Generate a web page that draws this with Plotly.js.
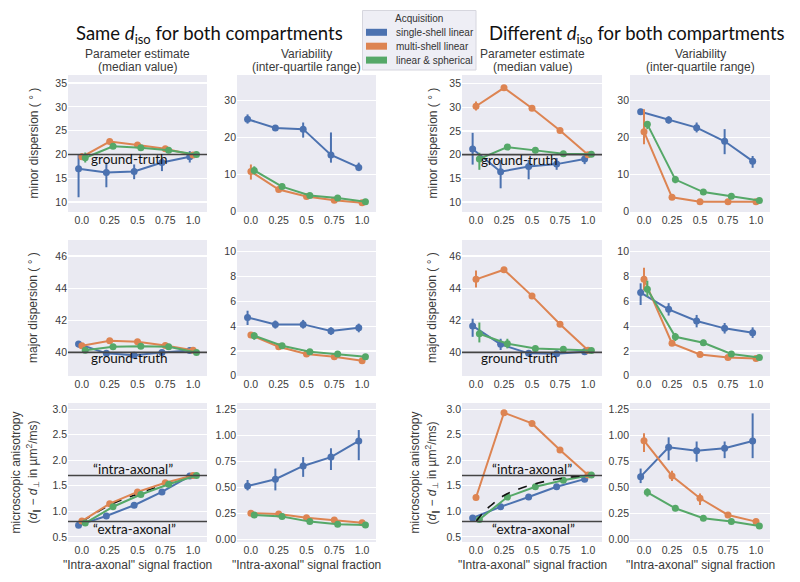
<!DOCTYPE html>
<html>
<head>
<meta charset="utf-8">
<script src="https://cdn.plot.ly/plotly-3.0.1.min.js"></script>
<style>
  html, body { margin: 0; padding: 0; background: #fff; }
  #chart { width: 800px; height: 582px; }
</style>
</head>
<body>
<div id="chart"></div>
<script>
// x categories (intra-axonal signal fraction)
const fractions = ["0.0", "0.25", "0.5", "0.75", "1.0"];
const acquisitions = ["single-shell linear", "multi-shell linear", "linear & spherical"];

// reference values
const gtMinor = 20;
const gtMajor = 40;
const intraAniso = 1.7;
const extraAniso = 0.8;

// --- minor dispersion, same d_iso: median ---
const sameMinorMedSingle = [17.0, 16.2, 16.4, 18.3, 19.5];
const sameMinorMedSingleCI = [[11.0, 20.0], [13.1, 18.3], [14.8, 17.9], [16.5, 19.0], [18.3, 20.7]];
const sameMinorMedMulti = [19.5, 22.7, 22.0, 21.2, 19.9];
const sameMinorMedMultiCI = [[18.9, 20.2], [22.3, 23.1], [21.7, 22.3], [20.9, 21.5], [19.6, 20.2]];
const sameMinorMedSphere = [19.3, 21.7, 21.4, 20.9, 20.0];
const sameMinorMedSphereCI = [[18.3, 20.4], [21.3, 22.1], [21.1, 21.7], [20.6, 21.2], [19.7, 20.3]];

// --- minor dispersion, same d_iso: IQR ---
const sameMinorIqrSingle = [25.0, 22.6, 22.3, 15.3, 11.9];
const sameMinorIqrSingleCI = [[23.8, 26.3], [21.8, 23.4], [20.0, 24.1], [13.2, 21.4], [10.9, 13.2]];
const sameMinorIqrMulti = [10.8, 5.9, 4.0, 3.0, 2.3];
const sameMinorIqrMultiCI = [[8.6, 12.7], [5.4, 6.4], [3.6, 4.4], [2.6, 3.4], [2.0, 2.6]];
const sameMinorIqrSphere = [11.1, 6.7, 4.3, 3.6, 2.6];
const sameMinorIqrSphereCI = [[10.0, 12.2], [6.2, 7.2], [3.9, 4.7], [3.2, 4.0], [2.3, 2.9]];

// --- minor dispersion, different d_iso: median ---
const diffMinorMedSingle = [21.2, 16.4, 17.5, 18.0, 19.1];
const diffMinorMedSingleCI = [[17.9, 24.6], [12.9, 18.9], [14.8, 18.9], [16.8, 19.3], [18.0, 19.8]];
const diffMinorMedMulti = [30.2, 34.1, 29.8, 25.1, 20.0];
const diffMinorMedMultiCI = [[29.3, 31.2], [33.8, 34.4], [29.5, 30.1], [24.8, 25.4], [19.7, 20.3]];
const diffMinorMedSphere = [19.1, 21.6, 20.9, 20.2, 20.1];
const diffMinorMedSphereCI = [[16.8, 20.4], [21.2, 22.0], [20.6, 21.2], [19.9, 20.5], [19.8, 20.4]];

// --- minor dispersion, different d_iso: IQR ---
const diffMinorIqrSingle = [27.0, 24.8, 22.7, 19.0, 13.6];
const diffMinorIqrSingleCI = [[26.2, 27.8], [23.8, 25.8], [21.4, 24.1], [15.5, 22.3], [11.8, 15.0]];
const diffMinorIqrMulti = [21.6, 3.8, 2.6, 2.6, 2.6];
const diffMinorIqrMultiCI = [[18.2, 27.7], [3.4, 4.2], [2.3, 2.9], [2.3, 2.9], [2.3, 2.9]];
const diffMinorIqrSphere = [23.6, 8.6, 5.2, 4.1, 2.9];
const diffMinorIqrSphereCI = [[22.3, 24.5], [7.6, 9.6], [4.7, 5.7], [3.7, 4.5], [2.6, 3.2]];

// --- major dispersion, same d_iso: median ---
const sameMajorMedSingle = [40.52, 39.94, 39.83, 40.0, 40.12];
const sameMajorMedSingleCI = [[40.3, 40.7], [39.8, 40.1], [39.7, 40.0], [39.85, 40.15], [39.95, 40.3]];
const sameMajorMedMulti = [40.41, 40.72, 40.66, 40.43, 40.14];
const sameMajorMedMultiCI = [[40.3, 40.5], [40.6, 40.8], [40.55, 40.75], [40.35, 40.5], [40.05, 40.2]];
const sameMajorMedSphere = [40.14, 40.35, 40.38, 40.35, 40.0];
const sameMajorMedSphereCI = [[40.0, 40.25], [40.25, 40.45], [40.3, 40.45], [40.25, 40.45], [39.9, 40.1]];

// --- major dispersion, same d_iso: IQR ---
const sameMajorIqrSingle = [4.7, 4.14, 4.14, 3.6, 3.87];
const sameMajorIqrSingleCI = [[4.09, 5.24], [3.8, 4.45], [3.8, 4.5], [3.3, 3.9], [3.5, 4.2]];
const sameMajorIqrMulti = [3.28, 2.34, 1.75, 1.53, 1.21];
const sameMajorIqrMultiCI = [[3.05, 3.5], [2.2, 2.5], [1.6, 1.9], [1.4, 1.65], [1.1, 1.3]];
const sameMajorIqrSphere = [3.22, 2.42, 1.94, 1.75, 1.53];
const sameMajorIqrSphereCI = [[2.9, 3.5], [2.25, 2.6], [1.8, 2.1], [1.6, 1.9], [1.4, 1.65]];

// --- major dispersion, different d_iso: median ---
const diffMajorMedSingle = [41.65, 40.5, 39.94, 39.92, 40.04];
const diffMajorMedSingleCI = [[40.97, 42.1], [40.15, 40.85], [39.8, 40.1], [39.75, 40.1], [39.85, 40.25]];
const diffMajorMedMulti = [44.55, 45.15, 43.52, 41.75, 40.14];
const diffMajorMedMultiCI = [[44.04, 45.1], [45.0, 45.3], [43.4, 43.65], [41.65, 41.85], [40.05, 40.25]];
const diffMajorMedSphere = [41.16, 40.54, 40.25, 40.2, 40.12];
const diffMajorMedSphereCI = [[40.62, 41.86], [40.25, 40.85], [40.1, 40.4], [40.05, 40.35], [40.0, 40.25]];

// --- major dispersion, different d_iso: IQR ---
const diffMajorIqrSingle = [6.7, 5.35, 4.41, 3.82, 3.47];
const diffMajorIqrSingleCI = [[5.7, 7.45], [4.85, 5.85], [3.9, 4.9], [3.4, 4.25], [3.05, 3.9]];
const diffMajorIqrMulti = [7.77, 2.61, 1.72, 1.48, 1.40];
const diffMajorIqrMultiCI = [[6.9, 8.7], [2.4, 2.8], [1.6, 1.85], [1.35, 1.6], [1.3, 1.5]];
const diffMajorIqrSphere = [6.97, 3.14, 2.66, 1.75, 1.48];
const diffMajorIqrSphereCI = [[6.37, 7.66], [2.8, 3.45], [2.45, 2.9], [1.6, 1.9], [1.35, 1.6]];

// --- microscopic anisotropy, same d_iso: median ---
const sameAnisoMedSingle = [0.73, 0.91, 1.12, 1.38, 1.69];
const sameAnisoMedSingleCI = [[0.69, 0.77], [0.87, 0.95], [1.08, 1.16], [1.33, 1.43], [1.64, 1.74]];
const sameAnisoMedMulti = [0.81, 1.15, 1.38, 1.56, 1.70];
const sameAnisoMedMultiCI = [[0.79, 0.83], [1.13, 1.17], [1.36, 1.40], [1.54, 1.58], [1.68, 1.72]];
const sameAnisoMedSphere = [0.77, 1.09, 1.33, 1.53, 1.70];
const sameAnisoMedSphereCI = [[0.75, 0.79], [1.07, 1.11], [1.31, 1.35], [1.51, 1.55], [1.68, 1.72]];
const sameAnisoTheory = [0.80, 1.12, 1.34, 1.53, 1.70];

// --- microscopic anisotropy, same d_iso: IQR ---
const sameAnisoIqrSingle = [0.512, 0.577, 0.705, 0.79, 0.945];
const sameAnisoIqrSingleCI = [[0.47, 0.57], [0.47, 0.68], [0.60, 0.79], [0.666, 0.875], [0.76, 1.05]];
const sameAnisoIqrMulti = [0.25, 0.243, 0.208, 0.186, 0.16];
const sameAnisoIqrMultiCI = [[0.24, 0.26], [0.23, 0.255], [0.195, 0.22], [0.175, 0.2], [0.15, 0.17]];
const sameAnisoIqrSphere = [0.234, 0.218, 0.17, 0.144, 0.137];
const sameAnisoIqrSphereCI = [[0.22, 0.25], [0.205, 0.23], [0.16, 0.18], [0.135, 0.155], [0.13, 0.145]];

// --- microscopic anisotropy, different d_iso: median ---
const diffAnisoMedSingle = [0.87, 1.09, 1.28, 1.48, 1.63];
const diffAnisoMedSingleCI = [[0.82, 0.92], [1.04, 1.14], [1.24, 1.32], [1.44, 1.53], [1.59, 1.68]];
const diffAnisoMedMulti = [1.27, 2.93, 2.72, 2.2, 1.71];
const diffAnisoMedMultiCI = [[1.24, 1.30], [2.91, 2.95], [2.70, 2.74], [2.18, 2.22], [1.69, 1.73]];
const diffAnisoMedSphere = [0.84, 1.28, 1.48, 1.61, 1.71];
const diffAnisoMedSphereCI = [[0.82, 0.86], [1.26, 1.30], [1.46, 1.50], [1.59, 1.63], [1.69, 1.73]];
const diffTheoryFrac = [0, 0.0625, 0.125, 0.25, 0.375, 0.5, 0.625, 0.75, 0.875, 1.0];
const diffAnisoTheory = [0.80, 0.97, 1.10, 1.31, 1.43, 1.52, 1.59, 1.64, 1.68, 1.70];

// --- microscopic anisotropy, different d_iso: IQR ---
const diffAnisoIqrSingle = [0.602, 0.885, 0.85, 0.875, 0.945];
const diffAnisoIqrSingleCI = [[0.54, 0.68], [0.76, 0.98], [0.746, 0.94], [0.78, 0.94], [0.78, 1.21]];
const diffAnisoIqrMulti = [0.948, 0.609, 0.394, 0.234, 0.17];
const diffAnisoIqrMultiCI = [[0.84, 1.02], [0.56, 0.66], [0.33, 0.44], [0.21, 0.26], [0.15, 0.19]];
const diffAnisoIqrSphere = [0.452, 0.298, 0.202, 0.17, 0.128];
const diffAnisoIqrSphereCI = [[0.41, 0.49], [0.27, 0.33], [0.18, 0.22], [0.155, 0.185], [0.115, 0.14]];

// seaborn "deep" palette
const colors = ["#4C72B0", "#DD8452", "#55A868"];
const dodge = [-0.12, 0, 0.12];
const W = 800, H = 582;

// panels in reading order (row by row, 4 columns)
const panels = [
    {series: [[sameMinorMedSingle, sameMinorMedSingleCI], [sameMinorMedMulti, sameMinorMedMultiCI], [sameMinorMedSphere, sameMinorMedSphereCI]], range: [7.9, 36.7], dtick: 5},
    {series: [[sameMinorIqrSingle, sameMinorIqrSingleCI], [sameMinorIqrMulti, sameMinorIqrMultiCI], [sameMinorIqrSphere, sameMinorIqrSphereCI]], range: [-0.2, 37], dtick: 10},
    {series: [[diffMinorMedSingle, diffMinorMedSingleCI], [diffMinorMedMulti, diffMinorMedMultiCI], [diffMinorMedSphere, diffMinorMedSphereCI]], range: [7.9, 36.8], dtick: 5},
    {series: [[diffMinorIqrSingle, diffMinorIqrSingleCI], [diffMinorIqrMulti, diffMinorIqrMultiCI], [diffMinorIqrSphere, diffMinorIqrSphereCI]], range: [-0.2, 37], dtick: 10},
    {series: [[sameMajorMedSingle, sameMajorMedSingleCI], [sameMajorMedMulti, sameMajorMedMultiCI], [sameMajorMedSphere, sameMajorMedSphereCI]], range: [38.53, 47], dtick: 2},
    {series: [[sameMajorIqrSingle, sameMajorIqrSingleCI], [sameMajorIqrMulti, sameMajorIqrMultiCI], [sameMajorIqrSphere, sameMajorIqrSphereCI]], range: [-0.02, 10.94], dtick: 2},
    {series: [[diffMajorMedSingle, diffMajorMedSingleCI], [diffMajorMedMulti, diffMajorMedMultiCI], [diffMajorMedSphere, diffMajorMedSphereCI]], range: [38.53, 47], dtick: 2},
    {series: [[diffMajorIqrSingle, diffMajorIqrSingleCI], [diffMajorIqrMulti, diffMajorIqrMultiCI], [diffMajorIqrSphere, diffMajorIqrSphereCI]], range: [-0.02, 10.94], dtick: 2},
    {series: [[sameAnisoMedSingle, sameAnisoMedSingleCI], [sameAnisoMedMulti, sameAnisoMedMultiCI], [sameAnisoMedSphere, sameAnisoMedSphereCI]], range: [0.4, 3.12], dtick: 0.5, tickformat: ".1f"},
    {series: [[sameAnisoIqrSingle, sameAnisoIqrSingleCI], [sameAnisoIqrMulti, sameAnisoIqrMultiCI], [sameAnisoIqrSphere, sameAnisoIqrSphereCI]], range: [-0.026, 1.31], dtick: 0.25, tickformat: ".2f"},
    {series: [[diffAnisoMedSingle, diffAnisoMedSingleCI], [diffAnisoMedMulti, diffAnisoMedMultiCI], [diffAnisoMedSphere, diffAnisoMedSphereCI]], range: [0.4, 3.12], dtick: 0.5, tickformat: ".1f"},
    {series: [[diffAnisoIqrSingle, diffAnisoIqrSingleCI], [diffAnisoIqrMulti, diffAnisoIqrMultiCI], [diffAnisoIqrSphere, diffAnisoIqrSphereCI]], range: [-0.026, 1.31], dtick: 0.25, tickformat: ".2f"}
];

// pixel boxes of the panels
const colPx = [[68, 207], [237, 376], [462, 602], [630, 770]];
const rowPx = [[75, 212], [240, 376], [403, 542]];
const px = v => v / W;
const py = v => 1 - v / H;

const tickFont = {family: "Liberation Sans, Arial, sans-serif", size: 10.5, color: "#3a3a3a"};
const labelFont = {family: "Liberation Sans, Arial, sans-serif", size: 12, color: "#3a3a3a"};
const noteFont = {family: "Lato, Carlito, sans-serif", size: 13.5, color: "#111"};

const traces = [];
const layout = {
    width: W, height: H,
    margin: {l: 0, r: 0, t: 0, b: 0},
    paper_bgcolor: "#fff",
    plot_bgcolor: "#EAEAF2",
    showlegend: false,
    shapes: [],
    annotations: []
};

panels.forEach((p, k) => {
    const n = k + 1;
    const r = Math.floor(k / 4), c = k % 4;
    const xa = "x" + (n === 1 ? "" : n), ya = "y" + (n === 1 ? "" : n);
    layout["xaxis" + (n === 1 ? "" : n)] = {
        domain: [px(colPx[c][0]), px(colPx[c][1])],
        anchor: ya, range: [-0.5, 4.5],
        tickvals: [0, 1, 2, 3, 4], ticktext: fractions,
        showgrid: false, zeroline: false, showline: false, ticks: "",
        tickfont: tickFont, fixedrange: true
    };
    layout["yaxis" + (n === 1 ? "" : n)] = {
        domain: [py(rowPx[r][1]), py(rowPx[r][0])],
        anchor: xa, range: p.range, dtick: p.dtick, tick0: 0,
        tickformat: p.tickformat,
        gridcolor: "#fff", gridwidth: 1.2, zeroline: false, showline: false, ticks: "",
        tickfont: tickFont, fixedrange: true
    };

    // theory curves (dashed black) in anisotropy median panels
    if (n === 9) {
        traces.push({x: [0, 1, 2, 3, 4], y: sameAnisoTheory, type: "scatter", mode: "lines",
            line: {color: "#111", width: 1.6, dash: "dash", shape: "spline"},
            xaxis: xa, yaxis: ya, hoverinfo: "skip"});
    }

    p.series.forEach(([vals, ci], s) => {
        traces.push({
            x: vals.map((_, i) => i + dodge[s]),
            y: vals,
            type: "scatter", mode: "lines+markers",
            line: {color: colors[s], width: 2},
            marker: {color: colors[s], size: 7},
            error_y: {
                type: "data", symmetric: false,
                array: vals.map((v, i) => ci[i][1] - v),
                arrayminus: vals.map((v, i) => v - ci[i][0]),
                color: colors[s], thickness: 2, width: 0
            },
            xaxis: xa, yaxis: ya, hoverinfo: "skip"
        });
    });

    if (n === 11) {
        traces.push({x: diffTheoryFrac.map(f => f * 4), y: diffAnisoTheory, type: "scatter", mode: "lines",
            line: {color: "#111", width: 1.6, dash: "dash", shape: "spline"},
            xaxis: xa, yaxis: ya, hoverinfo: "skip"});
    }
});

// reference lines
const hline = (n, y) => ({
    type: "line", xref: "x" + (n === 1 ? "" : n) + " domain", x0: 0, x1: 1,
    yref: "y" + (n === 1 ? "" : n), y0: y, y1: y,
    line: {color: "#444", width: 1.6}
});
layout.shapes.push(hline(1, gtMinor), hline(3, gtMinor), hline(5, gtMajor), hline(7, gtMajor),
    hline(9, intraAniso), hline(9, extraAniso), hline(11, intraAniso), hline(11, extraAniso));

const note = (n, x, y, text) => ({
    xref: "x" + (n === 1 ? "" : n), yref: "y" + (n === 1 ? "" : n),
    x: x, y: y, text: text, showarrow: false, font: noteFont,
    xanchor: "center", yanchor: "middle"
});
layout.annotations.push(
    note(1, 1.7, 19.0, "ground-truth"),
    note(3, 1.57, 18.9, "ground-truth"),
    note(5, 1.7, 39.65, "ground-truth"),
    note(7, 1.57, 39.65, "ground-truth"),
    note(9, 1.82, 1.83, "\u201Cintra-axonal\u201D"),
    note(9, 1.9, 0.65, "\u201Cextra-axonal\u201D"),
    note(11, 2.0, 1.83, "\u201Cintra-axonal\u201D"),
    note(11, 2.07, 0.65, "\u201Cextra-axonal\u201D")
);

// big group titles
const titleFont = {family: "Lato, Carlito, sans-serif", size: 18.5, color: "#111"};
layout.annotations.push(
    {xref: "paper", yref: "paper", x: px(209), y: py(34), xanchor: "center", yanchor: "middle",
        text: "Same <i>d</i><sub>iso</sub> for both compartments", showarrow: false, font: titleFont},
    {xref: "paper", yref: "paper", x: px(637), y: py(34), xanchor: "center", yanchor: "middle",
        text: "Different <i>d</i><sub>iso</sub> for both compartments", showarrow: false, font: titleFont}
);

// column titles, one line each
const colTitles = [["Parameter estimate", "(median value)"], ["Variability", "(inter-quartile range)"]];
colPx.forEach((cp, c) => {
    colTitles[c % 2].forEach((line, j) => {
        layout.annotations.push({xref: "paper", yref: "paper", x: px((cp[0] + cp[1]) / 2), y: py(53.5 + j * 13.4),
            xanchor: "center", yanchor: "middle", text: line, showarrow: false, font: labelFont});
    });
});

// y axis titles
const yTitles = ["minor dispersion ( \u00B0 )", "major dispersion ( \u00B0 )"];
[33, 432].forEach(xp => {
    [0, 1].forEach(r => {
        layout.annotations.push({xref: "paper", yref: "paper", x: px(xp), y: py((rowPx[r][0] + rowPx[r][1]) / 2),
            textangle: -90, xanchor: "center", yanchor: "middle", text: yTitles[r], showarrow: false, font: labelFont});
    });
    const yc = py((rowPx[2][0] + rowPx[2][1]) / 2);
    layout.annotations.push(
        {xref: "paper", yref: "paper", x: px(xp - 18), y: yc, textangle: -90, xanchor: "center", yanchor: "middle",
            text: "microscopic anisotropy", showarrow: false, font: labelFont},
        {xref: "paper", yref: "paper", x: px(xp - 1), y: yc, textangle: -90, xanchor: "center", yanchor: "middle",
            text: "(<i>d</i><sub>\u2225</sub> \u2212 <i>d</i><sub>\u22A5</sub> in \u00B5m<sup>2</sup>/ms)", showarrow: false, font: labelFont}
    );
});

// x axis titles (bottom row)
colPx.forEach(cp => {
    layout.annotations.push({xref: "paper", yref: "paper", x: px((cp[0] + cp[1]) / 2), y: py(565),
        xanchor: "center", yanchor: "middle", text: "\"Intra-axonal\" signal fraction", showarrow: false, font: labelFont});
});

// legend drawn by hand (seaborn style patches)
const legFont = {family: "Liberation Sans, Arial, sans-serif", size: 10, color: "#333"};
layout.shapes.push({type: "rect", xref: "paper", yref: "paper", x0: px(362.5), x1: px(476), y0: py(70), y1: py(10.5),
    fillcolor: "rgba(234,234,242,0.8)", line: {color: "#d6d6de", width: 1}});
layout.annotations.push({xref: "paper", yref: "paper", x: px(419), y: py(18.5), xanchor: "center", yanchor: "middle",
    text: "Acquisition", showarrow: false, font: legFont});
acquisitions.forEach((name, s) => {
    const yc = 32.3 + s * 13.9;
    layout.shapes.push({type: "rect", xref: "paper", yref: "paper", x0: px(366), x1: px(387), y0: py(yc + 3.5), y1: py(yc - 3.5),
        fillcolor: colors[s], line: {width: 0}});
    layout.annotations.push({xref: "paper", yref: "paper", x: px(394), y: py(yc), xanchor: "left", yanchor: "middle",
        text: name, showarrow: false, font: legFont});
});

Plotly.newPlot("chart", traces, layout, {staticPlot: true, displayModeBar: false});
</script>
</body>
</html>
